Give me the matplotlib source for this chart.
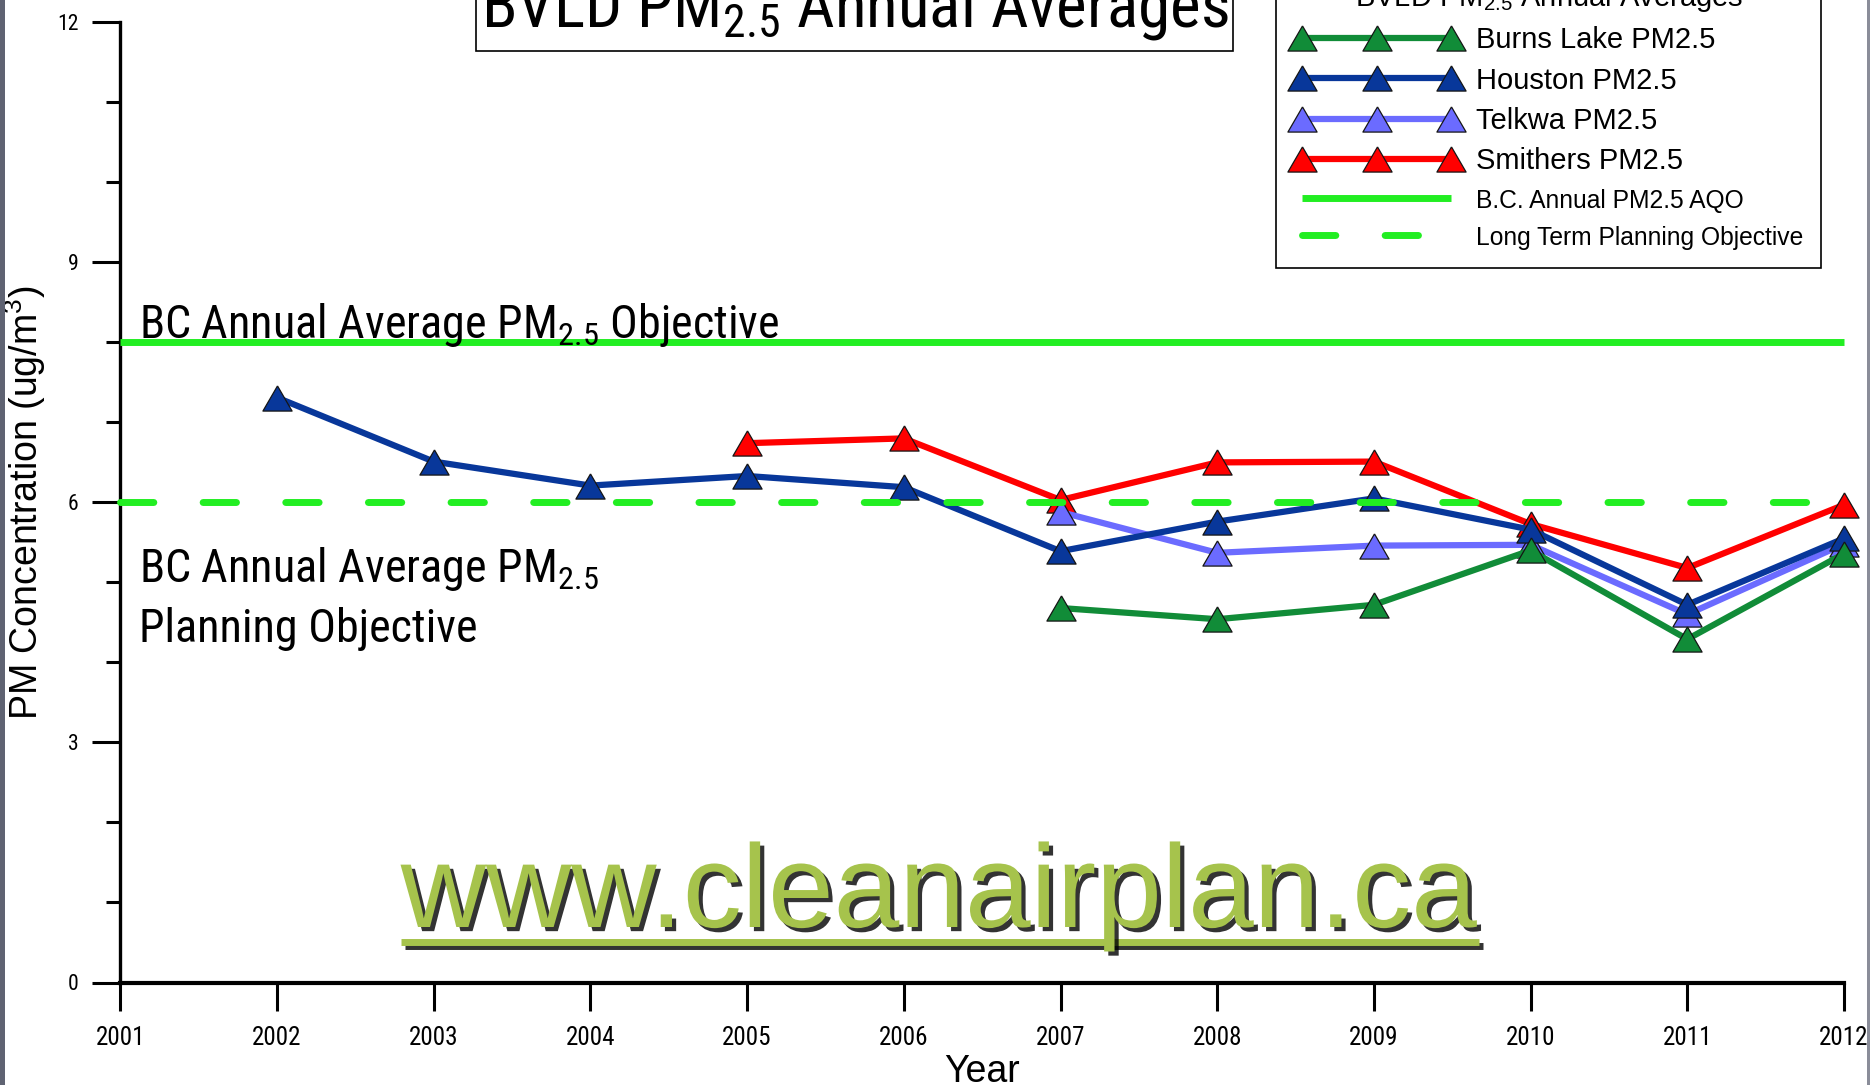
import matplotlib
matplotlib.use('Agg')
import matplotlib.pyplot as plt
from matplotlib import font_manager as fm
from matplotlib.font_manager import FontProperties
from matplotlib.patches import Rectangle
from matplotlib.lines import Line2D
import matplotlib.patheffects as pe
from matplotlib.ticker import MultipleLocator, FixedLocator

# ---------------- data ----------------
x_ticks = [2001, 2002, 2003, 2004, 2005, 2006, 2007, 2008, 2009, 2010, 2011, 2012]
y_ticks = [0, 3, 6, 9, 12]

houston_years = [2002, 2003, 2004, 2005, 2006, 2007, 2008, 2009, 2010, 2011, 2012]
houston = [7.31, 6.51, 6.21, 6.33, 6.19, 5.39, 5.76, 6.05, 5.66, 4.72, 5.55]

smithers_years = [2005, 2006, 2007, 2008, 2009, 2010, 2011, 2012]
smithers = [6.74, 6.80, 6.03, 6.50, 6.51, 5.73, 5.18, 5.97]

telkwa_years = [2007, 2008, 2009, 2010, 2011, 2012]
telkwa = [5.88, 5.37, 5.46, 5.47, 4.60, 5.48]

burns_years = [2007, 2008, 2009, 2010, 2011, 2012]
burns = [4.68, 4.54, 4.72, 5.40, 4.29, 5.36]

aqo_value = 8
planning_value = 6

labels = ["Burns Lake PM2.5", "Houston PM2.5", "Telkwa PM2.5", "Smithers PM2.5",
          "B.C. Annual PM2.5 AQO", "Long Term Planning Objective"]

# ---------------- fonts ----------------
REG = 'Liberation Sans'


def find_narrow():
    best = None
    for f in fm.fontManager.ttflist:
        if f.style != 'normal':
            continue
        if f.weight not in (400, 'normal', 'regular', 'book', 'Regular'):
            continue
        n, st = f.name, str(f.stretch).lower()
        rank = None
        if n == 'Liberation Sans Narrow':
            rank, fac = 0, 1.0
        elif n == 'Arial Narrow':
            rank, fac = 1, 1.0
        elif n == 'Roboto Condensed':
            rank, fac = 2, 0.95
        elif n in ('Noto Sans', 'Open Sans', 'Noto Sans Condensed', 'Open Sans Condensed') \
                and st in ('condensed', 'semi-condensed', 'semicondensed'):
            rank, fac = (3, 0.95) if st == 'condensed' else (4, 0.84)
        if rank is not None and (best is None or rank < best[0]):
            best = (rank, f.fname, fac)
    return best


nb = find_narrow()
if nb is not None:
    NARROW_FILE, nf = nb[1], nb[2]
else:
    NARROW_FILE, nf = fm.findfont(FontProperties(family=REG)), 0.82


def narrow(size):
    return FontProperties(fname=NARROW_FILE, size=size * nf)


W, H = 1870, 1085
fig = plt.figure(figsize=(W / 100, H / 100), dpi=100)
fig.patch.set_facecolor('white')

ax_left, ax_right = 120.3, 1844.0
ax_top, ax_bottom = 22.3, 982.5
ax = fig.add_axes([ax_left / W, 1 - ax_bottom / H, (ax_right - ax_left) / W, (ax_bottom - ax_top) / H])

C_BURNS = '#118c38'
C_HOUSTON = '#08379a'
C_TELKWA = '#6b6bff'
C_SMITHERS = '#ff0000'
C_LIME = '#22ee22'

tri = [(0, 1), (-1.16, -1), (1.16, -1), (0, 1)]
common = dict(lw=4.5, marker=tri, markersize=21, markeredgecolor='#151515',
              markeredgewidth=0.9, clip_on=False)

l_smith, = ax.plot(smithers_years, smithers, color=C_SMITHERS, zorder=3, **common)
l_telk, = ax.plot(telkwa_years, telkwa, color=C_TELKWA, zorder=4, **common)
l_hous, = ax.plot(houston_years, houston, color=C_HOUSTON, zorder=5, **common)
l_burn, = ax.plot(burns_years, burns, color=C_BURNS, zorder=6, **common)

l_aqo = ax.axhline(aqo_value, color=C_LIME, lw=5, zorder=7, clip_on=False,
                   solid_capstyle='butt')
l_plan = ax.axhline(planning_value, color=C_LIME, lw=5, zorder=7, clip_on=False,
                    linestyle=(0.0, (4.8, 7.1)), dash_capstyle='round')

ax.set_xlim(2001, 2012)
ax.set_ylim(0, 12)
ax.xaxis.set_major_locator(FixedLocator(x_ticks))
ax.set_xticklabels([str(v) for v in x_ticks])
ax.yaxis.set_major_locator(FixedLocator(y_ticks))
ax.yaxis.set_minor_locator(MultipleLocator(1))

for s in ['top', 'right']:
    ax.spines[s].set_visible(False)
ax.spines['left'].set_linewidth(2.4)
ax.spines['bottom'].set_linewidth(3.0)

ax.tick_params(axis='y', which='major', direction='out', length=20, width=2.2, pad=10)
ax.tick_params(axis='y', which='minor', direction='out', length=10, width=2.2)
ax.tick_params(axis='x', which='major', direction='out', length=20, width=2.2, pad=11)
for t in ax.get_xticklabels():
    t.set_fontproperties(narrow(19))
for t in ax.get_yticklabels():
    t.set_fontproperties(narrow(16.5))

ax.set_ylabel('PM Concentration (ug/m$^\\mathregular{3}$)', fontsize=27,
              fontfamily=REG, va='center')
ax.yaxis.set_label_coords((25 - ax_left) / (ax_right - ax_left), 0.5)
ax.set_xlabel('Year', fontsize=27, fontfamily=REG, va='baseline')
ax.xaxis.set_label_coords(0.5, -(1082.5 - ax_bottom) / (ax_bottom - ax_top))

# annotations
ax.text(2001.12, 8.06, 'BC Annual Average PM$_\\mathregular{2.5}$ Objective',
        fontproperties=narrow(35), va='baseline', ha='left', zorder=8)
ax.text(2001.12, 5.0, 'BC Annual Average PM$_\\mathregular{2.5}$',
        fontproperties=narrow(35), va='baseline', ha='left', zorder=8)
ax.text(2001.12, 4.26, 'Planning Objective',
        fontproperties=narrow(35), va='baseline', ha='left', zorder=8)

# legend
leg = ax.legend([l_burn, l_hous, l_telk, l_smith, l_aqo, l_plan], labels,
                title='BVLD PM$_\\mathregular{2.5}$ Annual Averages',
                loc='lower right', bbox_to_anchor=(1821 / W, 1 - 268 / H),
                bbox_transform=fig.transFigure, prop={'family': REG, 'size': 21},
                title_fontproperties={'family': REG, 'size': 21},
                handlelength=5.7, handletextpad=0.56, borderpad=0.6,
                labelspacing=0.42, numpoints=3, fancybox=False, framealpha=1,
                borderaxespad=0)
leg.get_frame().set_edgecolor('black')
leg.get_frame().set_linewidth(1.2)
for t in leg.get_texts()[4:]:
    t.set_fontsize(17.7)
leg.set_zorder(20)

# title box
fig.patches.append(Rectangle((476 / W, 1 - 51 / H), (1233 - 476) / W, 0.2,
                             transform=fig.transFigure, facecolor='white',
                             edgecolor='black', linewidth=1.2, zorder=5))
fig.text(854.5 / W, 1 - 26 / H, 'BVLD PM$_\\mathregular{2.5}$ Annual Averages',
         fontproperties=narrow(49.5), ha='center', va='baseline', zorder=6)

# watermark
WM = '#a6c34c'
fig.text(938.5 / W, 1 - 927 / H, 'www.cleanairplan.ca', fontsize=85, fontfamily=REG,
         color=WM, ha='center', va='baseline', zorder=10,
         path_effects=[pe.SimplePatchShadow(offset=(3, -3), shadow_rgbFace='black', alpha=0.8),
                       pe.Normal()])
ul = Line2D([401 / W, 1479 / W], [1 - 942 / H, 1 - 942 / H], transform=fig.transFigure,
            color=WM, lw=5, solid_capstyle='butt', zorder=10,
            path_effects=[pe.SimpleLineShadow(offset=(3, -3), shadow_color='black', alpha=0.8),
                          pe.Normal()])
fig.lines.append(ul)

# border strips
fig.patches.append(Rectangle((0, 0), 5 / W, 1, transform=fig.transFigure,
                             facecolor='#5f6372', edgecolor='none', zorder=30))
fig.patches.append(Rectangle((1 - 3 / W, 0), 3 / W, 1, transform=fig.transFigure,
                             facecolor='#8a8d99', edgecolor='none', zorder=30))

fig.savefig('out.png', dpi=100)
